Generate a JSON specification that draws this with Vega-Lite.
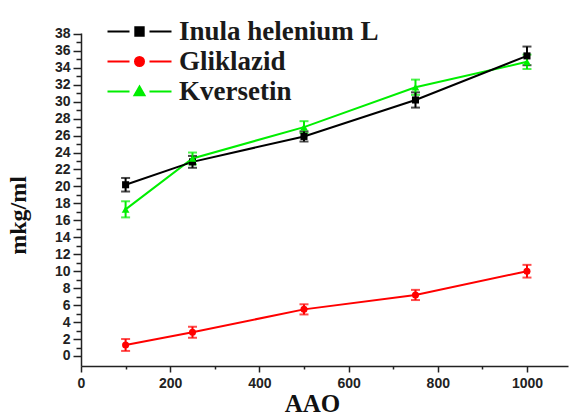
{
  "$schema": "https://vega.github.io/schema/vega-lite/v6.json",
  "width": 487,
  "height": 333,
  "autosize": "none",
  "padding": {"left": 81, "top": 33, "right": 1, "bottom": 49},
  "background": "white",
  "config": {
    "view": {"stroke": null},
    "axis": {
      "domainColor": "#222222",
      "domainWidth": 1.5,
      "tickColor": "#222222",
      "tickWidth": 1.5,
      "grid": false,
      "labelFont": "Liberation Sans",
      "labelFontWeight": "bold",
      "labelFontSize": 14,
      "labelColor": "#222222",
      "titleFont": "Liberation Serif",
      "titleFontWeight": "bold",
      "titleFontSize": 25,
      "titleColor": "#111111"
    }
  },
  "data": {
    "values": [
      {"series": "Gliklazid", "x": 100, "y": 1.3, "err": 0.7},
      {"series": "Gliklazid", "x": 250, "y": 2.8, "err": 0.65},
      {"series": "Gliklazid", "x": 500, "y": 5.5, "err": 0.6},
      {"series": "Gliklazid", "x": 750, "y": 7.2, "err": 0.6},
      {"series": "Gliklazid", "x": 1000, "y": 10.0, "err": 0.75},
      {"series": "Kversetin", "x": 100, "y": 17.3, "err": 0.95},
      {"series": "Kversetin", "x": 250, "y": 23.3, "err": 0.7},
      {"series": "Kversetin", "x": 500, "y": 27.0, "err": 0.7},
      {"series": "Kversetin", "x": 750, "y": 31.7, "err": 0.9},
      {"series": "Kversetin", "x": 1000, "y": 34.7, "err": 0.85},
      {"series": "Inula helenium L", "x": 100, "y": 20.2, "err": 0.8},
      {"series": "Inula helenium L", "x": 250, "y": 22.9, "err": 0.7},
      {"series": "Inula helenium L", "x": 500, "y": 25.9, "err": 0.6},
      {"series": "Inula helenium L", "x": 750, "y": 30.2, "err": 0.9},
      {"series": "Inula helenium L", "x": 1000, "y": 35.4, "err": 1.1}
    ]
  },
  "encoding": {
    "x": {
      "field": "x",
      "type": "quantitative",
      "scale": {"domain": [0, 1092], "nice": false, "zero": false},
      "axis": {
        "title": "AAO",
        "values": [0, 100, 200, 300, 400, 500, 600, 700, 800, 900, 1000],
        "format": "d",
        "labelExpr": "datum.value % 200 === 0 ? datum.label : ''",
        "tickSize": {"condition": {"test": "datum.value % 200 === 0", "value": 6}, "value": 3},
        "labelPadding": 4,
        "labelFlush": false,
        "titleX": 231,
        "titleY": 45,
        "titleBaseline": "alphabetic",
        "titleAnchor": "middle"
      }
    },
    "y": {
      "field": "y",
      "type": "quantitative",
      "scale": {"domain": [-1.18, 38.1], "nice": false, "zero": false},
      "axis": {
        "title": "mkg/ml",
        "values": [0,1,2,3,4,5,6,7,8,9,10,11,12,13,14,15,16,17,18,19,20,21,22,23,24,25,26,27,28,29,30,31,32,33,34,35,36,37,38],
        "format": "d",
        "labelExpr": "datum.value % 2 === 0 ? datum.label : ''",
        "tickSize": {"condition": {"test": "datum.value % 2 === 0", "value": 8}, "value": 5},
        "labelPadding": 3,
        "labelFlush": false,
        "titleFontSize": 24,
        "titleX": -56,
        "titleY": 182,
        "titleBaseline": "alphabetic",
        "titleAnchor": "middle"
      }
    }
  },
  "layer": [
    {
      "mark": {"type": "point", "filled": true, "opacity": 0, "size": 400},
      "encoding": {
        "shape": {
          "field": "series",
          "type": "nominal",
          "scale": {
            "domain": ["Inula helenium L", "Gliklazid", "Kversetin"],
            "range": [
              "M-3.2,0H-1M1,0H3.2M-0.42,-0.42H0.42V0.42H-0.42Z",
              "M-3.2,0H-1M1,0H3.2M0.45,0A0.45,0.45,0,1,1,-0.45,0A0.45,0.45,0,1,1,0.45,0Z",
              "M-3.2,0H-1M1,0H3.2M0,-0.5L0.5,0.38L-0.5,0.38Z"
            ]
          },
          "legend": {
            "title": null,
            "orient": "none",
            "legendX": 45,
            "legendY": -15,
            "symbolSize": 400,
            "symbolOpacity": 1,
            "symbolStrokeWidth": 2,
            "labelFont": "Liberation Serif",
            "labelFontWeight": "bold",
            "labelFontSize": 27,
            "labelColor": "#1a1a1a",
            "labelLimit": 400,
            "labelOffset": 26,
            "rowPadding": 2,
            "padding": 0,
            "encode": {"symbols": {"update": {"stroke": {"scale": "color", "field": "value"}, "opacity": {"value": 1}}}}
          }
        },
        "color": {
          "field": "series",
          "type": "nominal",
          "scale": {"domain": ["Inula helenium L", "Gliklazid", "Kversetin"], "range": ["#000000", "#ff0000", "#00ee00"]},
          "legend": {
            "title": null,
            "orient": "none",
            "legendX": 45,
            "legendY": -15,
            "symbolSize": 400,
            "symbolOpacity": 1,
            "symbolStrokeWidth": 2,
            "labelFont": "Liberation Serif",
            "labelFontWeight": "bold",
            "labelFontSize": 27,
            "labelColor": "#1a1a1a",
            "labelLimit": 400,
            "labelOffset": 26,
            "rowPadding": 2,
            "padding": 0,
            "encode": {"symbols": {"update": {"stroke": {"scale": "color", "field": "value"}, "opacity": {"value": 1}}}}
          }
        }
      }
    },
    {
      "mark": {"type": "line", "strokeWidth": 2},
      "encoding": {
        "color": {"field": "series", "type": "nominal", "legend": null}
      }
    },
    {
      "mark": {"type": "errorbar", "ticks": {"size": 9}, "thickness": 2},
      "encoding": {
        "yError": {"field": "err"},
        "color": {"field": "series", "type": "nominal", "legend": null}
      }
    },
    {
      "transform": [{"filter": "datum.series === 'Inula helenium L'"}],
      "mark": {"type": "point", "filled": true, "opacity": 1, "size": 50, "shape": "square"},
      "encoding": {"color": {"field": "series", "type": "nominal", "legend": null}}
    },
    {
      "transform": [{"filter": "datum.series === 'Gliklazid'"}],
      "mark": {"type": "point", "filled": true, "opacity": 1, "size": 50, "shape": "circle"},
      "encoding": {"color": {"field": "series", "type": "nominal", "legend": null}}
    },
    {
      "transform": [{"filter": "datum.series === 'Kversetin'"}],
      "mark": {"type": "point", "filled": true, "opacity": 1, "size": 60, "shape": "triangle-up"},
      "encoding": {"color": {"field": "series", "type": "nominal", "legend": null}}
    }
  ]
}
